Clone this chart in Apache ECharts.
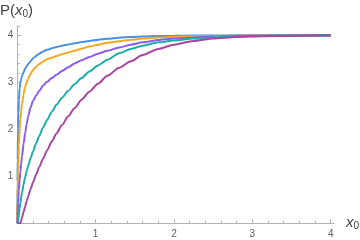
<!DOCTYPE html>
<html>
<head>
<meta charset="utf-8">
<script src="https://cdn.jsdelivr.net/npm/echarts@6/dist/echarts.min.js"></script>
<style>html,body{margin:0;padding:0;background:#fff}#c{width:360px;height:240px}</style>
</head>
<body>
<div id="c"></div>
<script>
// shared sample positions x0
const xs = [0, 0.0025, 0.005, 0.01, 0.015, 0.02, 0.03, 0.04, 0.05, 0.06, 0.08, 0.1, 0.12, 0.14, 0.17, 0.2, 0.24, 0.28, 0.33, 0.38, 0.44, 0.5, 0.57, 0.65, 0.73, 0.82, 0.92, 1.03, 1.15, 1.3, 1.45, 1.6, 1.8, 2.0, 2.25, 2.5, 2.8, 3.1, 3.5, 4.0];
const blueY    = [0, 0.9, 1.35, 2.0, 2.35, 2.6, 2.88, 3.0, 3.07, 3.13, 3.22, 3.29, 3.34, 3.39, 3.45, 3.51, 3.56, 3.61, 3.655, 3.69, 3.725, 3.75, 3.78, 3.805, 3.83, 3.855, 3.88, 3.905, 3.925, 3.95, 3.965, 3.975, 3.983, 3.99, 3.994, 3.997, 3.999, 4.0, 4.0, 4.0];
const orangeY  = [0, 0.55, 0.8, 1.15, 1.42, 1.65, 2.0, 2.22, 2.4, 2.54, 2.75, 2.9, 3.0, 3.08, 3.18, 3.26, 3.33, 3.39, 3.445, 3.49, 3.525, 3.56, 3.595, 3.635, 3.67, 3.715, 3.76, 3.8, 3.84, 3.875, 3.905, 3.93, 3.952, 3.967, 3.978, 3.986, 3.992, 3.996, 3.999, 4.0];
const purpleY  = [0, 0.15, 0.25, 0.43, 0.58, 0.7, 0.92, 1.1, 1.27, 1.42, 1.69, 1.92, 2.12, 2.28, 2.47, 2.6, 2.72, 2.82, 2.93, 3.01, 3.09, 3.16, 3.24, 3.32, 3.4, 3.47, 3.54, 3.61, 3.67, 3.74, 3.8, 3.85, 3.9, 3.93, 3.955, 3.972, 3.984, 3.992, 3.997, 4.0];
const tealY    = [0, 0, 0, 0.02, 0.1, 0.18, 0.32, 0.44, 0.55, 0.65, 0.83, 0.98, 1.11, 1.23, 1.39, 1.53, 1.7, 1.86, 2.04, 2.2, 2.37, 2.52, 2.67, 2.82, 2.96, 3.09, 3.23, 3.36, 3.48, 3.62, 3.71, 3.78, 3.85, 3.89, 3.93, 3.96, 3.975, 3.987, 3.995, 4.0];
const magentaY = [0, 0, 0, 0, 0, 0, 0, 0, 0.06, 0.12, 0.24, 0.36, 0.47, 0.58, 0.73, 0.87, 1.04, 1.2, 1.38, 1.55, 1.74, 1.91, 2.09, 2.28, 2.45, 2.63, 2.8, 2.97, 3.14, 3.31, 3.45, 3.58, 3.71, 3.8, 3.88, 3.93, 3.965, 3.982, 3.993, 3.998];
const seriesNames = ['blue', 'orange', 'purple', 'teal', 'magenta'];
const seriesY = [blueY, orangeY, purpleY, tealY, magentaY];
const colors = ['#4A90E2', '#F6A823', '#8A5CF0', '#1BAFA8', '#A5479F'];
const xMajor = [0, 1, 2, 3, 4];
const xLabels = [1, 2, 3, 4];
const xMinor = [0.2,0.4,0.6,0.8,1.2,1.4,1.6,1.8,2.2,2.4,2.6,2.8,3.2,3.4,3.6,3.8];
const yMajor = [0, 1, 2, 3, 4];
const yLabels = [1, 2, 3, 4];
const yMinor = [0.2,0.4,0.6,0.8,1.2,1.4,1.6,1.8,2.2,2.4,2.6,2.8,3.2,3.4,3.6,3.8,4.2];

const axisGray = '#b3b3b3';
const labelGray = '#5f5f5f';
const font = 'Liberation Sans';

const chart = echarts.init(document.getElementById('c'), null, {renderer: 'canvas'});
const baseX = {
  type: 'value', min: 0, max: 4.04, position: 'bottom',
  splitLine: {show: false}
};
const baseY = {
  type: 'value', min: 0, max: 4.2, position: 'left',
  splitLine: {show: false}
};
chart.setOption({
  animation: false,
  grid: {left: 17.3, right: 26.2, top: 25.9, bottom: 16.7, containLabel: false},
  xAxis: [
    Object.assign({}, baseX, {
      axisLine: {show: true, onZero: false, lineStyle: {color: axisGray, width: 1}},
      axisTick: {show: true, inside: true, length: 4, customValues: xMajor, lineStyle: {color: axisGray}},
      axisLabel: {show: true, customValues: xLabels, margin: 6, color: labelGray, fontSize: 10, fontFamily: font}
    }),
    Object.assign({}, baseX, {
      axisLine: {show: false},
      axisTick: {show: true, inside: true, length: 2.5, customValues: xMinor, lineStyle: {color: axisGray}},
      axisLabel: {show: false}
    })
  ],
  yAxis: [
    Object.assign({}, baseY, {
      axisLine: {show: true, onZero: false, lineStyle: {color: axisGray, width: 1}},
      axisTick: {show: true, inside: true, length: 4, customValues: yMajor, lineStyle: {color: axisGray}},
      axisLabel: {show: true, customValues: yLabels, margin: 4, color: labelGray, fontSize: 10, fontFamily: font}
    }),
    Object.assign({}, baseY, {
      axisLine: {show: false},
      axisTick: {show: true, inside: true, length: 2.5, customValues: yMinor, lineStyle: {color: axisGray}},
      axisLabel: {show: false}
    })
  ],
  graphic: [
    {
      type: 'text', left: 0, top: 3,
      style: {
        text: '{a|P(}{b|x}{c|0}{a|)}',
        rich: {
          a: {fontSize: 15, fontFamily: font, fill: '#444'},
          b: {fontSize: 15, fontFamily: font, fontStyle: 'italic', fill: '#444'},
          c: {fontSize: 10, fontFamily: font, fill: '#444', padding: [8, 0, 0, 0]}
        }
      }
    },
    {
      type: 'text', left: 346, top: 215,
      style: {
        text: '{b|x}{c|0}',
        rich: {
          b: {fontSize: 15, fontFamily: font, fontStyle: 'italic', fill: '#444'},
          c: {fontSize: 10, fontFamily: font, fill: '#444', padding: [8, 0, 0, 0]}
        }
      }
    }
  ],
  series: seriesY.map((ys, i) => ({
    name: seriesNames[i],
    type: 'line',
    xAxisIndex: 0, yAxisIndex: 0,
    data: xs.map((x, j) => [x, ys[j]]),
    showSymbol: false,
    smooth: 0.25,
    smoothMonotone: 'x',
    lineStyle: {color: colors[i], width: 2},
    itemStyle: {color: colors[i]}
  }))
});
</script>
</body>
</html>
